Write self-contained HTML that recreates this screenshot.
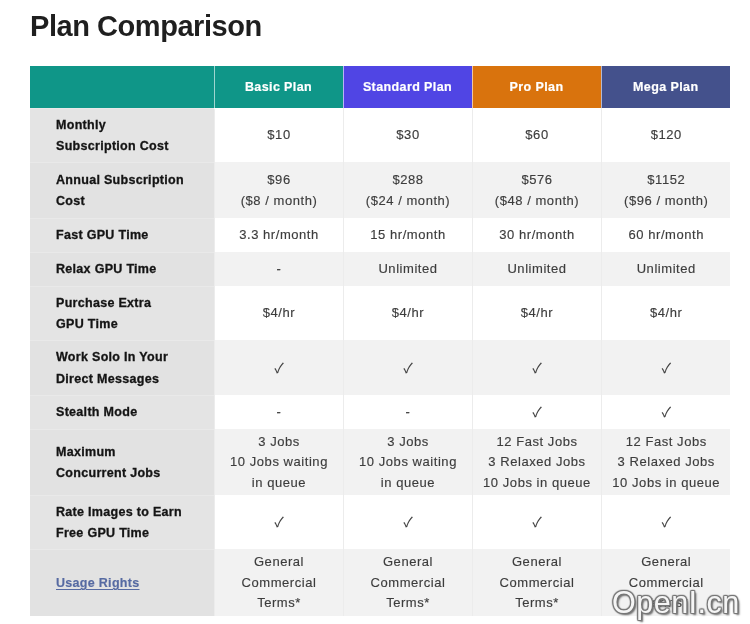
<!DOCTYPE html>
<html><head><meta charset="utf-8"><title>Plan Comparison</title>
<style>
*{box-sizing:border-box;margin:0;padding:0}
html,body{width:750px;height:624px;background:#fff;overflow:hidden}
body{font-family:"Liberation Sans",sans-serif;color:#3c3c3c;position:relative}
h1{position:absolute;left:30px;top:8.5px;font-size:29px;line-height:34px;font-weight:bold;color:#1f1f1f;letter-spacing:-0.45px;white-space:nowrap}
table{position:absolute;left:30px;top:66px;width:700px;border-collapse:collapse;table-layout:fixed;font-size:13px;line-height:20.5px}
th{height:42px;padding-top:1px;-webkit-text-stroke:.2px #fff;color:#fff;font-weight:bold;font-size:12.5px;letter-spacing:.4px;text-align:center;vertical-align:middle;border-left:1px solid rgba(255,255,255,.6)}
th:first-child{border-left:0}
.c0{background:#0f9688}.c1{background:#0f9688}.c2{background:#5045e4}.c3{background:#d9730d}.c4{background:#44518c}
td{text-align:center;vertical-align:middle;letter-spacing:.55px;padding:1px 0 0 1px;-webkit-text-stroke:.15px #3d3d3d;border-left:1px solid #ececec;background:#fff;color:#3d3d3d}
td.l{text-align:left;padding:2px 0 0 26px;border-top:1px solid #e9e9e9;font-weight:bold;color:#141414;-webkit-text-stroke:.3px #141414;background:#e4e4e4;border-left:0;letter-spacing:.3px;font-size:12.5px;line-height:21.5px}
tr.e td{background:#f2f2f2}
tr.e td.l{background:#e2e2e2}
td.l a{color:#566aa2;-webkit-text-stroke:.15px #566aa2;text-decoration:underline;text-decoration-thickness:1px;text-underline-offset:2px}
.ck{font-family:"Noto Sans CJK JP","Liberation Sans",sans-serif;font-size:13.5px;letter-spacing:0;color:#3a3a3a}
.wm{position:absolute;left:612px;top:584px;font-size:30.5px;line-height:36px;color:rgba(255,255,255,.93);font-family:"Liberation Sans",sans-serif;letter-spacing:.5px;text-shadow:-1px -1px 1px #777,1px -1px 1px #777,-1px 1px 1px #777,1px 1px 1px #777,0 -1px 1px #777,0 1px 1px #777,-1px 0 1px #777,1px 0 1px #777,2px 2px 2px #666;white-space:nowrap}
</style></head><body>
<h1>Plan Comparison</h1>
<table>
<colgroup><col style="width:184px"><col style="width:129px"><col style="width:129px"><col style="width:129px"><col style="width:129px"></colgroup>
<tr><th class="c0"></th><th class="c1">Basic Plan</th><th class="c2">Standard Plan</th><th class="c3">Pro Plan</th><th class="c4">Mega Plan</th></tr>
<tr style="height:54px"><td class="l">Monthly<br>Subscription Cost</td><td>$10</td><td>$30</td><td>$60</td><td>$120</td></tr>
<tr class="e" style="height:56px"><td class="l">Annual Subscription<br>Cost</td><td>$96<br>($8 / month)</td><td>$288<br>($24 / month)</td><td>$576<br>($48 / month)</td><td>$1152<br>($96 / month)</td></tr>
<tr style="height:34px"><td class="l">Fast GPU Time</td><td>3.3 hr/month</td><td>15 hr/month</td><td>30 hr/month</td><td>60 hr/month</td></tr>
<tr class="e" style="height:34px"><td class="l">Relax GPU Time</td><td>-</td><td>Unlimited</td><td>Unlimited</td><td>Unlimited</td></tr>
<tr style="height:54px"><td class="l">Purchase Extra<br>GPU Time</td><td>$4/hr</td><td>$4/hr</td><td>$4/hr</td><td>$4/hr</td></tr>
<tr class="e" style="height:55px"><td class="l">Work Solo In Your<br>Direct Messages</td><td><span class="ck">✓</span></td><td><span class="ck">✓</span></td><td><span class="ck">✓</span></td><td><span class="ck">✓</span></td></tr>
<tr style="height:34px"><td class="l">Stealth Mode</td><td>-</td><td>-</td><td><span class="ck">✓</span></td><td><span class="ck">✓</span></td></tr>
<tr class="e" style="height:66px"><td class="l">Maximum<br>Concurrent Jobs</td><td>3 Jobs<br>10 Jobs waiting<br>in queue</td><td>3 Jobs<br>10 Jobs waiting<br>in queue</td><td>12 Fast Jobs<br>3 Relaxed Jobs<br>10 Jobs in queue</td><td>12 Fast Jobs<br>3 Relaxed Jobs<br>10 Jobs in queue</td></tr>
<tr style="height:54px"><td class="l">Rate Images to Earn<br>Free GPU Time</td><td><span class="ck">✓</span></td><td><span class="ck">✓</span></td><td><span class="ck">✓</span></td><td><span class="ck">✓</span></td></tr>
<tr class="e" style="height:67px"><td class="l"><a>Usage Rights</a></td><td>General<br>Commercial<br>Terms*</td><td>General<br>Commercial<br>Terms*</td><td>General<br>Commercial<br>Terms*</td><td>General<br>Commercial<br>Terms*</td></tr>
</table>
<div class="wm">OpenI.cn</div>
</body></html>
